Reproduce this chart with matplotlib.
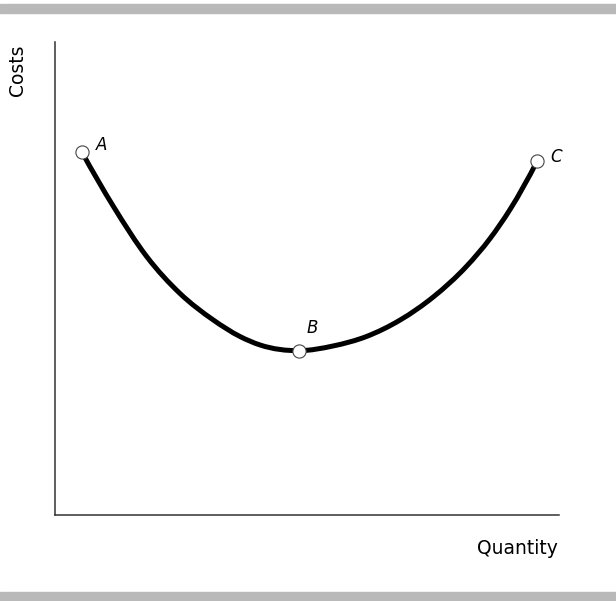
import matplotlib.pyplot as plt
from matplotlib.patches import Rectangle, PathPatch
from matplotlib.path import Path

# points (quantity, cost), axes run 0..10
quantity = [0.53, 1.16, 1.82, 2.48, 3.14, 3.67, 4.07, 4.85, 5.52, 6.18, 6.85, 7.51, 8.17, 8.63, 9.03, 9.57]
costs = [7.68, 6.52, 5.46, 4.68, 4.12, 3.77, 3.59, 3.47, 3.57, 3.77, 4.12, 4.61, 5.26, 5.84, 6.46, 7.49]

point_names = ['A', 'B', 'C']
point_q = [0.53, 4.85, 9.57]
point_c = [7.68, 3.47, 7.49]

W, H = 616, 601
fig = plt.figure(figsize=(W / 100, H / 100), dpi=100)

# grey bands at top and bottom of the figure
fig.patches.append(Rectangle((0, 1 - 13 / H), 1, 9 / H, transform=fig.transFigure,
                             color='#b9b9b9', zorder=0))
fig.patches.append(Rectangle((0, 0), 1, 9 / H, transform=fig.transFigure,
                             color='#b9b9b9', zorder=0))

ax = fig.add_axes([55 / W, (H - 514.7) / H, (559 - 55) / W, (514.7 - 42) / H])
ax.set_xlim(0, 10)
ax.set_ylim(0, 10)

# smooth curve through the read points: cubic Hermite segments drawn as Bezier curves
n = len(quantity)
h = [quantity[i + 1] - quantity[i] for i in range(n - 1)]
d = [(costs[i + 1] - costs[i]) / h[i] for i in range(n - 1)]
m = [0.0] * n
for i in range(1, n - 1):
    m[i] = (d[i - 1] * h[i] + d[i] * h[i - 1]) / (h[i - 1] + h[i])
m[0] = 2 * d[0] - m[1]
m[-1] = 2 * d[-1] - m[-2]

verts = [(quantity[0], costs[0])]
codes = [Path.MOVETO]
for i in range(n - 1):
    verts += [(quantity[i] + h[i] / 3, costs[i] + m[i] * h[i] / 3),
              (quantity[i + 1] - h[i] / 3, costs[i + 1] - m[i + 1] * h[i] / 3),
              (quantity[i + 1], costs[i + 1])]
    codes += [Path.CURVE4] * 3
ax.add_patch(PathPatch(Path(verts, codes), facecolor='none', edgecolor='black',
                       linewidth=3.6, capstyle='round', zorder=2))

ax.plot(point_q, point_c, 'o', markersize=9.5, markerfacecolor='white',
        markeredgecolor='#444444', markeredgewidth=0.8, clip_on=False, zorder=3)

offsets = [(0.4, 0.15), (0.25, 0.47), (0.38, 0.07)]
for name, q, c, (dx, dy) in zip(point_names, point_q, point_c, offsets):
    ax.text(q + dx, c + dy, name, fontsize=12, style='italic', ha='center', va='center')

for side in ['top', 'right']:
    ax.spines[side].set_visible(False)
for side in ['left', 'bottom']:
    ax.spines[side].set_color('#333333')
    ax.spines[side].set_linewidth(1.1)
ax.set_xticks([])
ax.set_yticks([])

fig.text(18 / W, 1 - 70 / H, 'Costs', fontsize=13.5, rotation=90, ha='center', va='center')
fig.text(558 / W, 1 - 548 / H, 'Quantity', fontsize=13.5, ha='right', va='center')

fig.savefig('out.png', dpi=100, facecolor='white')
